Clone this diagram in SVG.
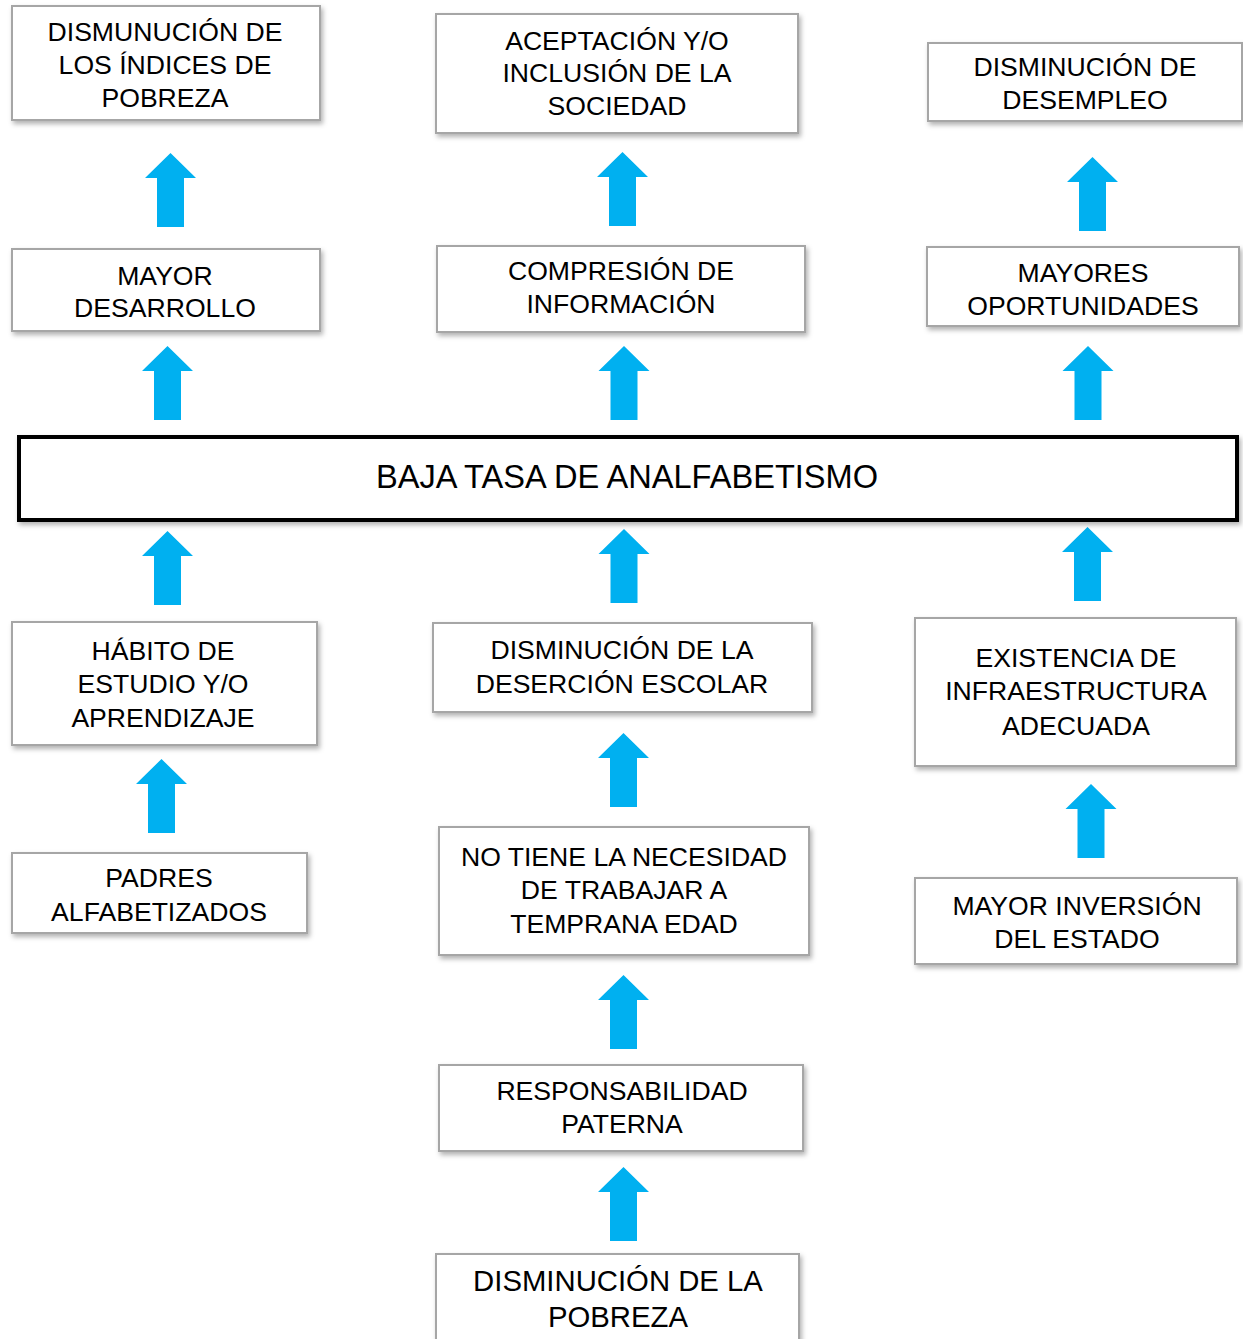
<svg xmlns="http://www.w3.org/2000/svg" xmlns:xlink="http://www.w3.org/1999/xlink" width="1243" height="1339" viewBox="0 0 1243 1339">
<style>
.box{fill:#ffffff;stroke:#a6a6a6;stroke-width:2;filter:url(#sh)}
.main{fill:#ffffff;stroke:#000000;stroke-width:4;filter:url(#sh)}
text{font-family:"Liberation Sans",Arial,sans-serif;font-size:26.6px;fill:#000000;text-anchor:middle}
.big{font-size:32.6px}
.b29{font-size:29.3px}
.arr{fill:#00b0f0}
</style>
<defs>
<filter id="sh" x="-5%" y="-10%" width="110%" height="130%">
<feDropShadow dx="2" dy="3" stdDeviation="2.5" flood-color="#000000" flood-opacity="0.3"/>
</filter>
<path id="up" d="M0,0 L25.5,25 L13.5,25 L13.5,74 L-13.5,74 L-13.5,25 L-25.5,25 Z"/>
</defs>
<rect width="1243" height="1339" fill="#ffffff"/>

<g id="connectors" class="arr">
<use xlink:href="#up" href="#up" x="170.5" y="153"/>
<use xlink:href="#up" href="#up" x="622.5" y="152"/>
<use xlink:href="#up" href="#up" x="1092.5" y="157"/>
<use xlink:href="#up" href="#up" x="167.5" y="346"/>
<use xlink:href="#up" href="#up" x="624" y="346"/>
<use xlink:href="#up" href="#up" x="1088" y="346"/>
<use xlink:href="#up" href="#up" x="167.5" y="531"/>
<use xlink:href="#up" href="#up" x="624" y="529"/>
<use xlink:href="#up" href="#up" x="1087.5" y="527"/>
<use xlink:href="#up" href="#up" x="161.5" y="759"/>
<use xlink:href="#up" href="#up" x="623.5" y="733"/>
<use xlink:href="#up" href="#up" x="1091" y="784"/>
<use xlink:href="#up" href="#up" x="623.5" y="975"/>
<use xlink:href="#up" href="#up" x="623.5" y="1167"/>
</g>

<g id="n-indices-pobreza">
<rect class="box" x="12" y="6" width="308" height="114"/>
<text x="165" y="41">DISMUNUCIÓN DE</text>
<text x="165" y="74">LOS ÍNDICES DE</text>
<text x="165" y="107">POBREZA</text>
</g>
<g id="n-aceptacion">
<rect class="box" x="436" y="14" width="362" height="119"/>
<text x="617" y="50">ACEPTACIÓN Y/O</text>
<text x="617" y="82">INCLUSIÓN DE LA</text>
<text x="617" y="115">SOCIEDAD</text>
</g>
<g id="n-desempleo">
<rect class="box" x="928" y="43" width="314" height="78"/>
<text x="1085" y="76">DISMINUCIÓN DE</text>
<text x="1085" y="109">DESEMPLEO</text>
</g>
<g id="n-desarrollo">
<rect class="box" x="12" y="249" width="308" height="82"/>
<text x="165" y="285">MAYOR</text>
<text x="165" y="317">DESARROLLO</text>
</g>
<g id="n-compresion">
<rect class="box" x="437" y="246" width="368" height="86"/>
<text x="621" y="280">COMPRESIÓN DE</text>
<text x="621" y="313">INFORMACIÓN</text>
</g>
<g id="n-oportunidades">
<rect class="box" x="927" y="247" width="312" height="79"/>
<text x="1083" y="282">MAYORES</text>
<text x="1083" y="315">OPORTUNIDADES</text>
</g>
<g id="n-baja-tasa">
<rect class="main" x="19" y="437" width="1218" height="83"/>
<text class="big" x="627" y="488">BAJA TASA DE ANALFABETISMO</text>
</g>
<g id="n-habito">
<rect class="box" x="12" y="622" width="305" height="123"/>
<text x="163" y="660">HÁBITO DE</text>
<text x="163" y="693">ESTUDIO Y/O</text>
<text x="163" y="727">APRENDIZAJE</text>
</g>
<g id="n-desercion">
<rect class="box" x="433" y="623" width="379" height="89"/>
<text x="622" y="659">DISMINUCIÓN DE LA</text>
<text x="622" y="693">DESERCIÓN ESCOLAR</text>
</g>
<g id="n-infraestructura">
<rect class="box" x="915" y="618" width="321" height="148"/>
<text x="1076" y="667">EXISTENCIA DE</text>
<text x="1076" y="700">INFRAESTRUCTURA</text>
<text x="1076" y="735">ADECUADA</text>
</g>
<g id="n-padres">
<rect class="box" x="12" y="853" width="295" height="80"/>
<text x="159" y="887">PADRES</text>
<text x="159" y="921">ALFABETIZADOS</text>
</g>
<g id="n-no-trabajar">
<rect class="box" x="439" y="827" width="370" height="128"/>
<text x="624" y="866">NO TIENE LA NECESIDAD</text>
<text x="624" y="899">DE TRABAJAR A</text>
<text x="624" y="933">TEMPRANA EDAD</text>
</g>
<g id="n-inversion">
<rect class="box" x="915" y="878" width="322" height="86"/>
<text x="1077" y="915">MAYOR INVERSIÓN</text>
<text x="1077" y="948">DEL ESTADO</text>
</g>
<g id="n-responsabilidad">
<rect class="box" x="439" y="1065" width="364" height="86"/>
<text x="622" y="1100">RESPONSABILIDAD</text>
<text x="622" y="1133">PATERNA</text>
</g>
<g id="n-pobreza">
<rect class="box" x="436" y="1254" width="363" height="100"/>
<text class="b29" x="618" y="1291">DISMINUCIÓN DE LA</text>
<text class="b29" x="618" y="1327">POBREZA</text>
</g>
</svg>
